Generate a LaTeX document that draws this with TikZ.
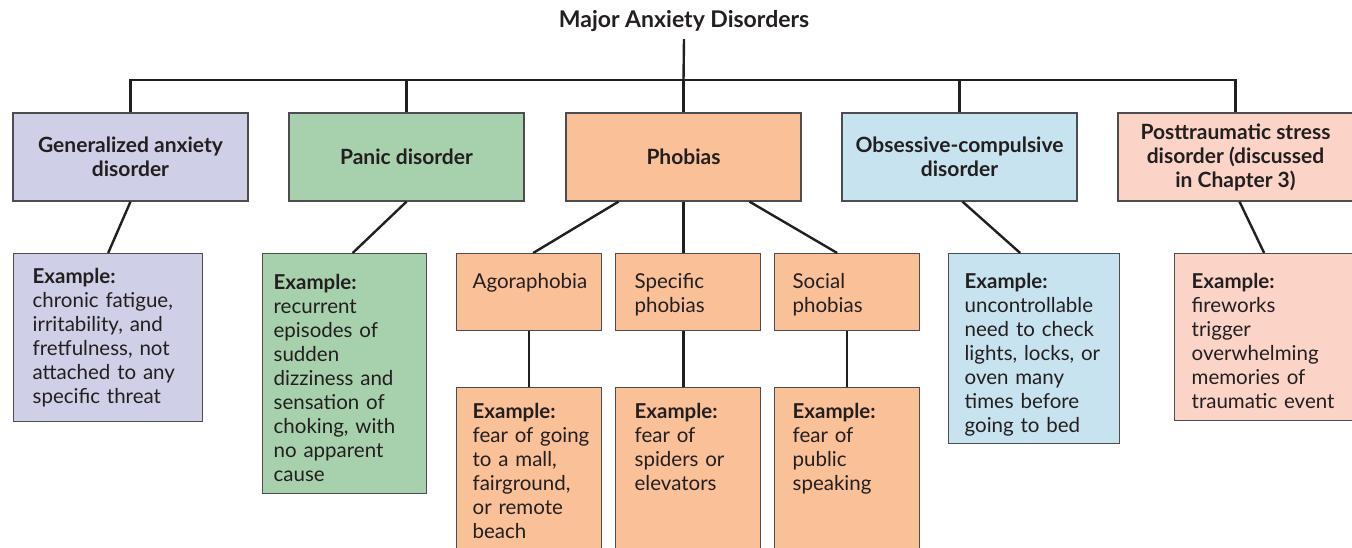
\documentclass[tikz,border=0pt]{standalone}
\usepackage{fontspec}
\setmainfont{Lato}
\usepackage{xcolor}
\usetikzlibrary{calc, positioning}

\definecolor{inkc}{HTML}{231F20}
\definecolor{edgec}{HTML}{4D4D4F}
\definecolor{gadcol}{HTML}{CFCFE7}
\definecolor{pancol}{HTML}{A7D1AC}
\definecolor{phocol}{HTML}{FAC198}
\definecolor{ocdcol}{HTML}{C7E3EF}
\definecolor{ptscol}{HTML}{FBD4C7}

\begin{document}
\begin{tikzpicture}[x=1pt, y=-1pt,
    font=\fontsize{20.5}{24}\selectfont, text=inkc,
    topbox/.style={draw=edgec, line width=1.3pt, minimum width=235pt,
        minimum height=88pt, align=center, inner sep=0pt,
        font=\fontsize{21}{24}\selectfont\bfseries},
    exbox/.style n args={4}{draw=edgec, line width=1.3pt, anchor=north west,
        align=left, inner sep=0pt, text width=#1,
        execute at begin node={\leftskip=#2},
        text height=#3, text depth={#4-#3}},
    link/.style={draw=inkc, line width=2.4pt}]
    % 1. Khung ảnh
    \useasboundingbox (0,0) rectangle (1352,548);
    \clip (0,0) rectangle (1352,548);

    % 2. Tiêu đề và năm hộp chính
    \node[font=\fontsize{23}{24}\selectfont\bfseries] (title) at (684,21) {Major Anxiety Disorders};
    \coordinate (hub) at (683.5,80);

    \node[topbox, fill=gadcol] (gad) at (130.5,157) {Generalized anxiety\\disorder};
    \node[topbox, fill=pancol] (pan) at (406.5,157) {Panic disorder};
    \node[topbox, fill=phocol] (pho) at (683.5,157) {Phobias};
    \node[topbox, fill=ocdcol] (ocd) at (959.5,157) {Obsessive-compulsive\\disorder};
    \node[topbox, fill=ptscol] (pts) at (1235.5,157) {Posttraumatic stress\\disorder (discussed\\in Chapter 3)};

    % 3. Các loại ám ảnh sợ
    \node[exbox={145pt}{16pt}{35pt}{77pt}, fill=phocol] (ago) at (456,253) {Agoraphobia};
    \node[exbox={145pt}{19pt}{35pt}{77pt}, fill=phocol] (spec) at (615,253) {Specific\\phobias};
    \node[exbox={145pt}{18pt}{35pt}{77pt}, fill=phocol] (soc) at (774,253) {Social\\phobias};

    % 4. Các hộp ví dụ
    \node[exbox={189pt}{19pt}{30pt}{168pt}, fill=gadcol] (gadex) at (13,253)
        {\textbf{Example:}\\chronic fatigue,\\irritability, and\\fretfulness, not\\attached to any\\specific threat};
    \node[exbox={164pt}{11pt}{36pt}{240pt}, fill=pancol] (panex) at (262,253)
        {\textbf{Example:}\\recurrent\\episodes of\\sudden\\dizziness and\\sensation of\\choking, with\\no apparent\\cause};
    \node[exbox={145pt}{16pt}{31pt}{180pt}, fill=phocol] (agoex) at (456,387)
        {\textbf{Example:}\\fear of going\\to a mall,\\fairground,\\or remote\\beach};
    \node[exbox={145pt}{19pt}{31pt}{180pt}, fill=phocol] (specex) at (615,387)
        {\textbf{Example:}\\fear of\\spiders or\\elevators};
    \node[exbox={145pt}{18pt}{31pt}{180pt}, fill=phocol] (socex) at (774,387)
        {\textbf{Example:}\\fear of\\public\\speaking};
    \node[exbox={171pt}{16pt}{35pt}{190pt}, fill=ocdcol] (ocdex) at (948,253)
        {\textbf{Example:}\\uncontrollable\\need to check\\lights, locks, or\\oven many\\times before\\going to bed};
    \node[exbox={191pt}{17pt}{35pt}{167pt}, fill=ptscol] (ptsex) at (1174,253)
        {\textbf{Example:}\\fireworks\\trigger\\overwhelming\\memories of\\traumatic event};

    % 5. Đường nối
    \draw[link] ([yshift=-4pt]title.south) -- (hub);
    \draw[link] (gad.north) -- (gad.north |- hub) -- (pts.north |- hub) -- (pts.north);
    \foreach \n in {pan, pho, ocd}
        \draw[link] (\n.north) -- (\n.north |- hub);

    \draw[link] (gad.south) -- (gadex.north);
    \draw[link] (pan.south) -- ([xshift=8pt]panex.north);
    \draw[link] ([xshift=-65pt]pho.south) -- ([xshift=4pt]ago.north);
    \draw[link] (pho.south) -- (pho.south |- spec.north);
    \draw[link] ([xshift=66pt]pho.south) -- ([xshift=-10pt]soc.north);
    \draw[link] ([xshift=3pt]ocd.south) -- ([xshift=-14pt]ocdex.north);
    \draw[link] ([xshift=4pt]pts.south) -- ([xshift=-6pt]ptsex.north);

    \draw[link] (ago.south) -- (agoex.north);
    \draw[link] (spec.south -| pho.south) -- (specex.north -| pho.south);
    \draw[link] (soc.south) -- (socex.north);
\end{tikzpicture}
\end{document}
